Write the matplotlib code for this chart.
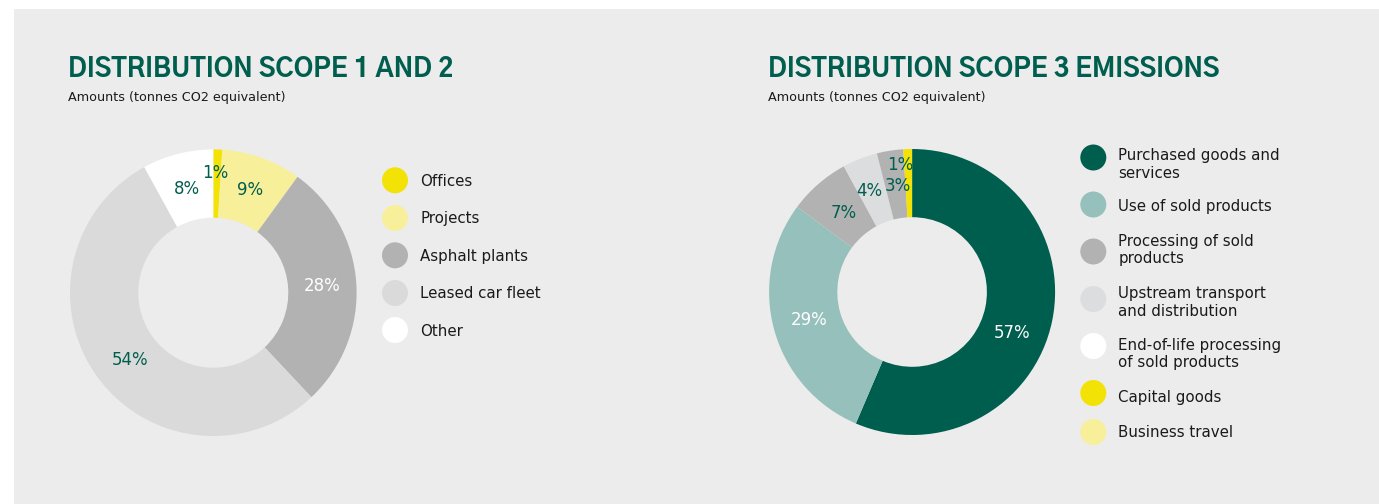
import matplotlib
matplotlib.use("Agg")
import matplotlib.pyplot as plt
from matplotlib.patches import Rectangle, Circle
from matplotlib.textpath import TextPath
from matplotlib import font_manager as fm
import numpy as np

# ---------------- data ----------------
scope12_labels = ["Offices", "Projects", "Asphalt plants", "Leased car fleet", "Other"]
scope12_values = [1, 9, 28, 54, 8]
scope12_pct_text = ["1%", "9%", "28%", "54%", "8%"]

scope3_labels = [["Purchased goods and", "services"], ["Use of sold products"],
                 ["Processing of sold", "products"], ["Upstream transport", "and distribution"],
                 ["End-of-life processing", "of sold products"], ["Capital goods"], ["Business travel"]]
scope3_values = [57, 29, 7, 4, 3, 1]
scope3_pct_text = ["57%", "29%", "7%", "4%", "3%", "1%"]

titles = ["DISTRIBUTION SCOPE 1 AND 2", "DISTRIBUTION SCOPE 3 EMISSIONS"]
subtitle = "Amounts (tonnes CO2 equivalent)"

# ---------------- style ----------------
W, H = 1379, 504
BG = "#ececec"
GREEN = "#005e4f"
TEAL = "#96c0bc"
GREY = "#b2b2b2"
LGREY = "#dadada"
LGREY2 = "#dcdddf"
YELLOW = "#f2e205"
LYELLOW = "#f8ef9b"
WHITE = "#ffffff"
TXT = "#1a1a1a"

scope12_colors = [YELLOW, LYELLOW, GREY, LGREY, WHITE]
scope12_text_colors = [GREEN, GREEN, WHITE, GREEN, GREEN]
scope3_slice_colors = [GREEN, TEAL, GREY, LGREY2, GREY, YELLOW]
scope3_legend_colors = [GREEN, TEAL, GREY, LGREY2, WHITE, YELLOW, LYELLOW]
scope3_text_colors = [WHITE, WHITE, GREEN, GREEN, GREEN, GREEN]

# label placement tweaks: (radius, clockwise angle shift in degrees)
scope12_label_pos = [(120, -1), (109, 0), (109, 0), (107, -3), (107, 0)]
scope3_label_pos = [(108, 10.6), (107, 0), (105, 0), (110, -1.5), (107, 1), (128, -3.4)]

fig = plt.figure(figsize=(W / 100, H / 100), dpi=100)
fig.patch.set_facecolor("white")
ax = fig.add_axes([0, 0, 1, 1])
ax.set_xlim(0, W)
ax.set_ylim(0, H)
ax.axis("off")
renderer = fig.canvas.get_renderer()


def Y(py):
    return H - py


# ---- pick a narrow heavy face (with lining figures) for the titles ----
TITLE_TARGET_W = 384.0   # px width of first title in reference
TITLE_CAP_PX = 20.0      # px cap height in reference


def _weight(f):
    try:
        return int(f.weight)
    except Exception:
        return {"bold": 700, "semibold": 600, "demibold": 600, "heavy": 800,
                "extra bold": 800, "black": 900}.get(str(f.weight), 400)


def pick_title_font():
    best = None
    for f in fm.fontManager.ttflist:
        w = _weight(f)
        if w < 600 or w > 900 or f.style != "normal":
            continue
        if any(k in f.name for k in ("Serif", "Mono", "CJK", "Math", "Symbol", "Emoji", "Display")):
            continue
        try:
            fp = fm.FontProperties(fname=f.fname, size=20)
            ext_h = TextPath((0, 0), "H", prop=fp).get_extents()
            ext_1 = TextPath((0, 0), "1", prop=fp).get_extents()
            ext_2 = TextPath((0, 0), "2", prop=fp).get_extents()
            cap_pt = ext_h.height
            # lining figures only
            if ext_1.y1 < 0.93 * ext_h.y1 or ext_2.y1 < 0.93 * ext_h.y1 or ext_2.y0 < -0.05 * cap_pt:
                continue
            size_cap = 20 * (TITLE_CAP_PX * 0.72) / cap_pt
            fp2 = fm.FontProperties(fname=f.fname, size=size_cap)
            t = ax.text(0, 0, titles[0], fontproperties=fp2)
            wd = t.get_window_extent(renderer).width
            t.remove()
        except Exception:
            continue
        score = abs(wd - TITLE_TARGET_W) + 0.25 * abs(w - 800)
        if best is None or score < best[0]:
            best = (score, f.fname, wd, size_cap)
    if best is None:
        return fm.FontProperties(family="DejaVu Sans", weight="bold", size=16)
    _, fname, wd, size_cap = best
    return fm.FontProperties(fname=fname, size=size_cap * TITLE_TARGET_W / wd)


title_fp = pick_title_font()


def donut(values, colors, center, r_out, r_in, texts, tcolors, lpos):
    cx, cy = center
    wedges, _ = ax.pie(values, colors=colors, startangle=90, counterclock=False,
                       center=(cx, Y(cy)), radius=r_out,
                       wedgeprops=dict(width=r_out - r_in, linewidth=0, antialiased=True))
    for w, t, c, (r, sh) in zip(wedges, texts, tcolors, lpos):
        mid = np.deg2rad((w.theta1 + w.theta2) / 2 - sh)
        ax.text(cx + r * np.cos(mid), Y(cy) + r * np.sin(mid), t, color=c,
                fontsize=12, ha="center", va="center", family="DejaVu Sans")


ax.add_patch(Rectangle((14, 0), W - 14, Y(9), facecolor=BG, edgecolor="none", zorder=0))

donut(scope12_values, scope12_colors, (213.3, 292.7), 143.3, 75,
      scope12_pct_text, scope12_text_colors, scope12_label_pos)
donut(scope3_values, scope3_slice_colors, (912.1, 292.0), 143.0, 74.8,
      scope3_pct_text, scope3_text_colors, scope3_label_pos)

# titles
for x0, t in zip([68, 768], titles):
    ax.text(x0, Y(77), t, color=GREEN, fontproperties=title_fp, ha="left", va="baseline")
    ax.text(x0, Y(100.5), subtitle, color=TXT, fontsize=9.2,
            family="DejaVu Sans", ha="left", va="baseline")

# legend 1
leg1_y = [180.3, 218, 255.3, 293, 330]
for lab, col, yy in zip(scope12_labels, scope12_colors, leg1_y):
    ax.add_patch(Circle((395, Y(yy)), 13, facecolor=col, edgecolor="none"))
    ax.text(420.5, Y(yy + 5.5), lab, fontsize=10.8, color=TXT,
            family="DejaVu Sans", ha="left", va="baseline")

# legend 2
leg2_circle_y = [157.5, 204.5, 251.5, 299, 346, 393, 432]
leg2_text_y = [160, 211, 246, 298, 350, 402, 437]
LINE_STEP = 17.5
for lines, col, cyy, tyy in zip(scope3_labels, scope3_legend_colors, leg2_circle_y, leg2_text_y):
    ax.add_patch(Circle((1093.3, Y(cyy)), 13, facecolor=col, edgecolor="none"))
    for i, ln in enumerate(lines):
        ax.text(1118.3, Y(tyy + i * LINE_STEP), ln, fontsize=10.8, color=TXT,
                family="DejaVu Sans", ha="left", va="baseline")

ax.set_xlim(0, W)
ax.set_ylim(0, H)
ax.set_aspect("equal")
ax.axis("off")

fig.savefig("out.png", dpi=100, facecolor=fig.get_facecolor())
